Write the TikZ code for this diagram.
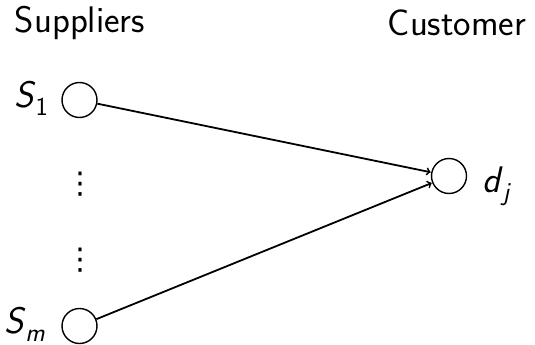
\documentclass[tikz,border=0pt]{standalone}
\usepackage{fontspec}
\renewcommand{\familydefault}{\sfdefault}
\newfontfamily\dvfont{DejaVu Sans}
\tikzset{
  pt/.style={circle, draw, line width=1.4pt, minimum size=35pt, inner sep=0pt},
  lbl/.style={font=\fontsize{37}{40}\selectfont},
  vd/.style={font=\dvfont\fontsize{30}{34}\selectfont, inner sep=0pt},
  conn/.style={->, line width=1.8pt, shorten >=0.5pt}
}
\newcommand{\ssym}[2]{\textit{#1}\raisebox{-0.22em}{\fontsize{26}{28}\selectfont #2}}
\begin{document}
\begin{tikzpicture}[x=1pt,y=-1pt]
\useasboundingbox (0,0) rectangle (535,345);
\node[lbl, anchor=base] (sup) at (80,33) {Suppliers};
\node[lbl, anchor=base] (cus) at (457,36) {Customer};
\node[pt] (s1) at (79.5,100) {};
\node[pt] (sm) at (79.5,326) {};
\node[pt] (d) at (449,176) {};
\node[lbl, anchor=base east, inner sep=0pt] (l1) at (48,107) {\ssym{S}{1}};
\node[lbl, anchor=base east, inner sep=0pt] (lm) at (45,333) {\ssym{S}{\textit{m}}};
\node[lbl, anchor=base west, inner sep=0pt] (ld) at (482,192) {\ssym{d}{\textit{j}}};
\node[vd] (v1) at (80,184) {⋮};
\node[vd] (v2) at (80,260) {⋮};
\draw[conn] (s1) -- (d);
\draw[conn] (sm) -- (d);
\end{tikzpicture}
\end{document}
